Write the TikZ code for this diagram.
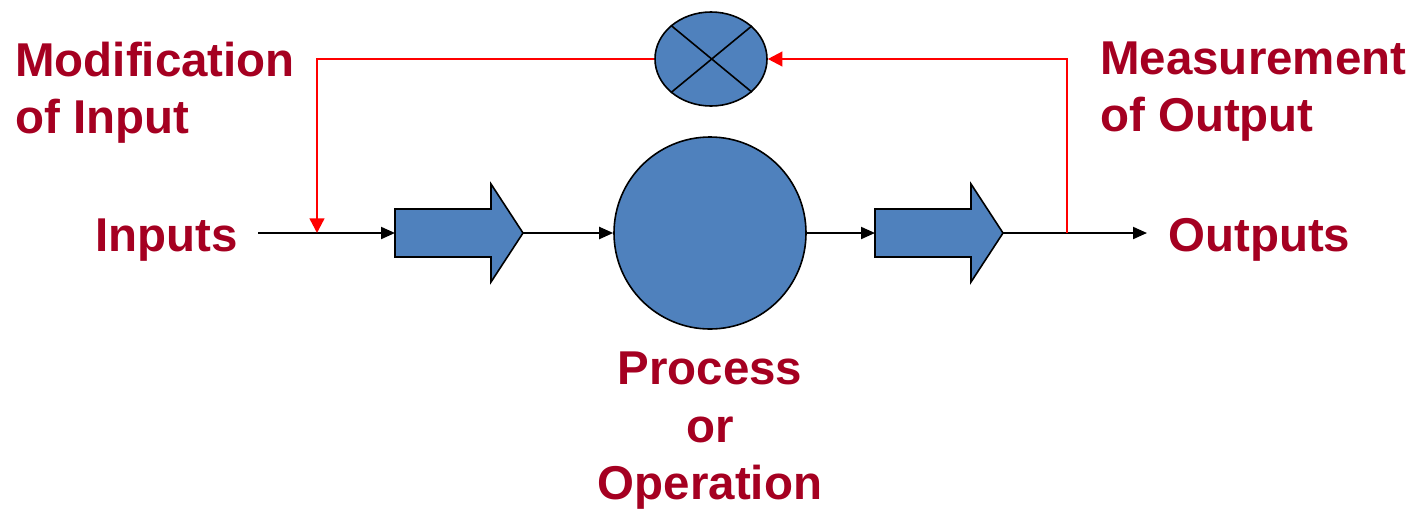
\documentclass[tikz,border=0pt]{standalone}
\usepackage{fontspec}
\setmainfont{Liberation Sans}
\usetikzlibrary{arrows.meta,shapes.geometric}
\definecolor{labelred}{HTML}{A50021}
\definecolor{shapeblue}{HTML}{4F81BD}
\begin{document}
\begin{tikzpicture}[x=0.75pt,y=-0.75pt,
  label/.style={text=labelred,font=\fontsize{35.6pt}{42.8pt}\selectfont\bfseries,inner sep=0pt},
  shapefill/.style={draw=black,fill=shapeblue,line width=1.2pt},
  flow/.style={draw=black,line width=1.5pt,-{Triangle[length=10.5pt,width=9pt]}},
  feedback/.style={draw=red,line width=1.8pt},
  feedbackarrow/.style={feedback,-{Triangle[length=11pt,width=11pt]}}]
\useasboundingbox (0,0) rectangle (1416,511);

% labels
\node[label,anchor=base west] (inputs) at (95,251) {Inputs};
\node[label,anchor=base west] (outputs) at (1168,251) {Outputs};
\node[label,anchor=north west,align=left] (modin) at (15,42) {Modification\\of Input};
\node[label,anchor=north west,align=left] (measout) at (1100,42) {Measurement\\of Output};
\node[label,anchor=north,align=center] (proclabel) at (710,352) {Process\\or\\Operation};

% process circle and comparator
\node[shapefill,circle,inner sep=0pt,minimum size=144pt] (proc) at (710,233) {};
\node[shapefill,ellipse,inner sep=0pt,minimum width=84pt,minimum height=70.5pt] (sum) at (711,59) {};
\draw[line width=1.2pt] (sum.140.2) -- (sum.-39.8);
\draw[line width=1.2pt] (sum.39.8) -- (sum.-140.2);

% block arrows
\draw[shapefill] (395,209) -- (491,209) -- (491,184) -- (523,233) -- (491,282) -- (491,257) -- (395,257) -- cycle;
\coordinate (arrowAin) at (395,233);
\coordinate (arrowAtip) at (523,233);
\draw[shapefill] (875,209) -- (971,209) -- (971,184) -- (1003,233) -- (971,282) -- (971,257) -- (875,257) -- cycle;
\coordinate (arrowBin) at (875,233);
\coordinate (arrowBtip) at (1003,233);

% main flow
\coordinate (instart) at (258,233);
\coordinate (injoin) at (317,233);
\coordinate (outjoin) at (1067,233);
\coordinate (outend) at (1147,233);
\draw[flow] (instart) -- (arrowAin);
\draw[flow] (arrowAtip) -- (proc.west);
\draw[flow] (proc.east) -- (arrowBin);
\draw[flow] (arrowBtip) -- (outend);

% feedback loop
\draw[feedbackarrow] (sum.west) -| (injoin);
\draw[feedbackarrow] (outjoin) |- (sum.east);
\end{tikzpicture}
\end{document}
